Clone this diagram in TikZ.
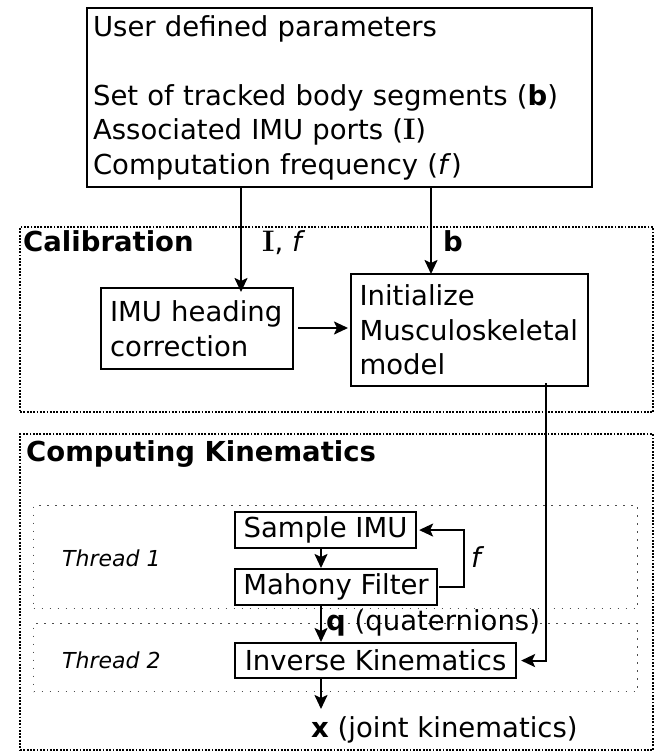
\documentclass[tikz,border=0pt]{standalone}
\usepackage{fontspec}
\setmainfont{DejaVu Sans}
\newfontfamily\lmr{Latin Modern Roman}[Scale=1.08]
\usetikzlibrary{arrows.meta,calc}
\newcommand{\bI}{{\lmr\bfseries I}}
\hyphenpenalty=10000
\exhyphenpenalty=10000
\begin{document}
\begin{tikzpicture}[x=1pt,y=-1pt,
  every node/.style={font=\fontsize{27.5}{34.5}\selectfont, inner sep=0pt},
  box/.style={draw, line width=2.1pt, anchor=north west},
  group/.style={draw, line width=2.3pt, dash pattern=on 1.8pt off 1.5pt, anchor=north west},
  thread/.style={draw, line width=1.3pt, dash pattern=on 1.3pt off 6.7pt, black!70, anchor=north west},
  arr/.style={-{Stealth[length=14pt,width=13pt,inset=3pt]}, line width=2.1pt},
  lbl/.style={anchor=base west},
  thlbl/.style={anchor=base west, font=\fontsize{22}{26}\selectfont\itshape},
]
\useasboundingbox (0,0) rectangle (658,751);

% top parameter box
\node[box, minimum width=505pt, minimum height=179pt, text width=493pt, align=left] (params) at (86,7)
  {User defined parameters\\\mbox{}\\Set of tracked body segments (\textbf{b})\\Associated IMU ports (\bI)\\Computation frequency (\textit{f})};

% Calibration group
\node[group, minimum width=633pt, minimum height=185pt] (calib) at (19,226) {};
\node[lbl, font=\fontsize{27.5}{34.5}\selectfont\bfseries] (calibt) at (23,251) {Calibration};

\node[box, minimum width=192pt, minimum height=81pt, text width=174pt, align=left] (imu) at (100,287)
  {IMU heading\\correction};
\node[box, minimum width=237pt, minimum height=112pt, text width=220pt, align=left] (init) at (350,273)
  {Initialize\\Musculoskeletal\\model};

\node[lbl] (lIf) at (262,251) {\bI, \textit{f}};
\node[lbl, font=\fontsize{27.5}{34.5}\selectfont\bfseries] (lb) at (443,251) {b};

% Computing Kinematics group
\node[group, minimum width=633pt, minimum height=316pt] (comp) at (19,433) {};
\node[lbl, font=\fontsize{27.5}{34.5}\selectfont\bfseries] (compt) at (26,461) {Computing Kinematics};

\node[thread, minimum width=604pt, minimum height=103pt] (th1) at (33,505) {};
\node[thread, minimum width=604pt, minimum height=68pt] (th2) at (33,623) {};
\node[thlbl] (th1l) at (62,566) {Thread 1};
\node[thlbl] (th2l) at (62,668) {Thread 2};

\node[box, minimum width=181pt, minimum height=36pt] (sample) at (234,511) {Sample IMU};
\node[box, minimum width=202pt, minimum height=36pt] (mahony) at (234,568) {Mahony Filter};
\node[box, minimum width=281pt, minimum height=35pt] (inv) at (234,642) {Inverse Kinematics};

\node[lbl] (lq) at (326,630) {\textbf{q} (quaternions)};
\node[lbl] (lf) at (471,567) {\textit{f}};
\node[lbl] (out) at (311,737) {\textbf{x} (joint kinematics)};

\coordinate (ca) at (241,0);
\coordinate (cb) at (431,0);
\coordinate (cc) at (464,0);
\coordinate (cd) at (546,0);
\coordinate (ce) at (321,0);

% connectors
\draw[arr] (params.south -| ca) -- ([yshift=-5pt]imu.north -| ca);
\draw[arr] (params.south -| cb) -- ([yshift=-1pt]init.north -| cb);
\draw[arr] ([xshift=4pt]imu.east |- 0,328) -- ([xshift=-2pt]init.west |- 0,328);
\draw[arr] ([yshift=4pt]init.south -| cd) -- (cd |- inv.east) -- ([xshift=4pt]inv.east);
\draw[arr] (sample.south -| ce) -- (mahony.north -| ce);
\draw[arr] ([xshift=1pt]mahony.east) -- (cc |- mahony.east) -- (cc |- sample.east) -- ([xshift=2pt]sample.east);
\draw[arr] (mahony.south -| ce) -- (inv.north -| ce);
\draw[arr] (inv.south -| ce) -- (ce |- 0,709);
\end{tikzpicture}
\end{document}
